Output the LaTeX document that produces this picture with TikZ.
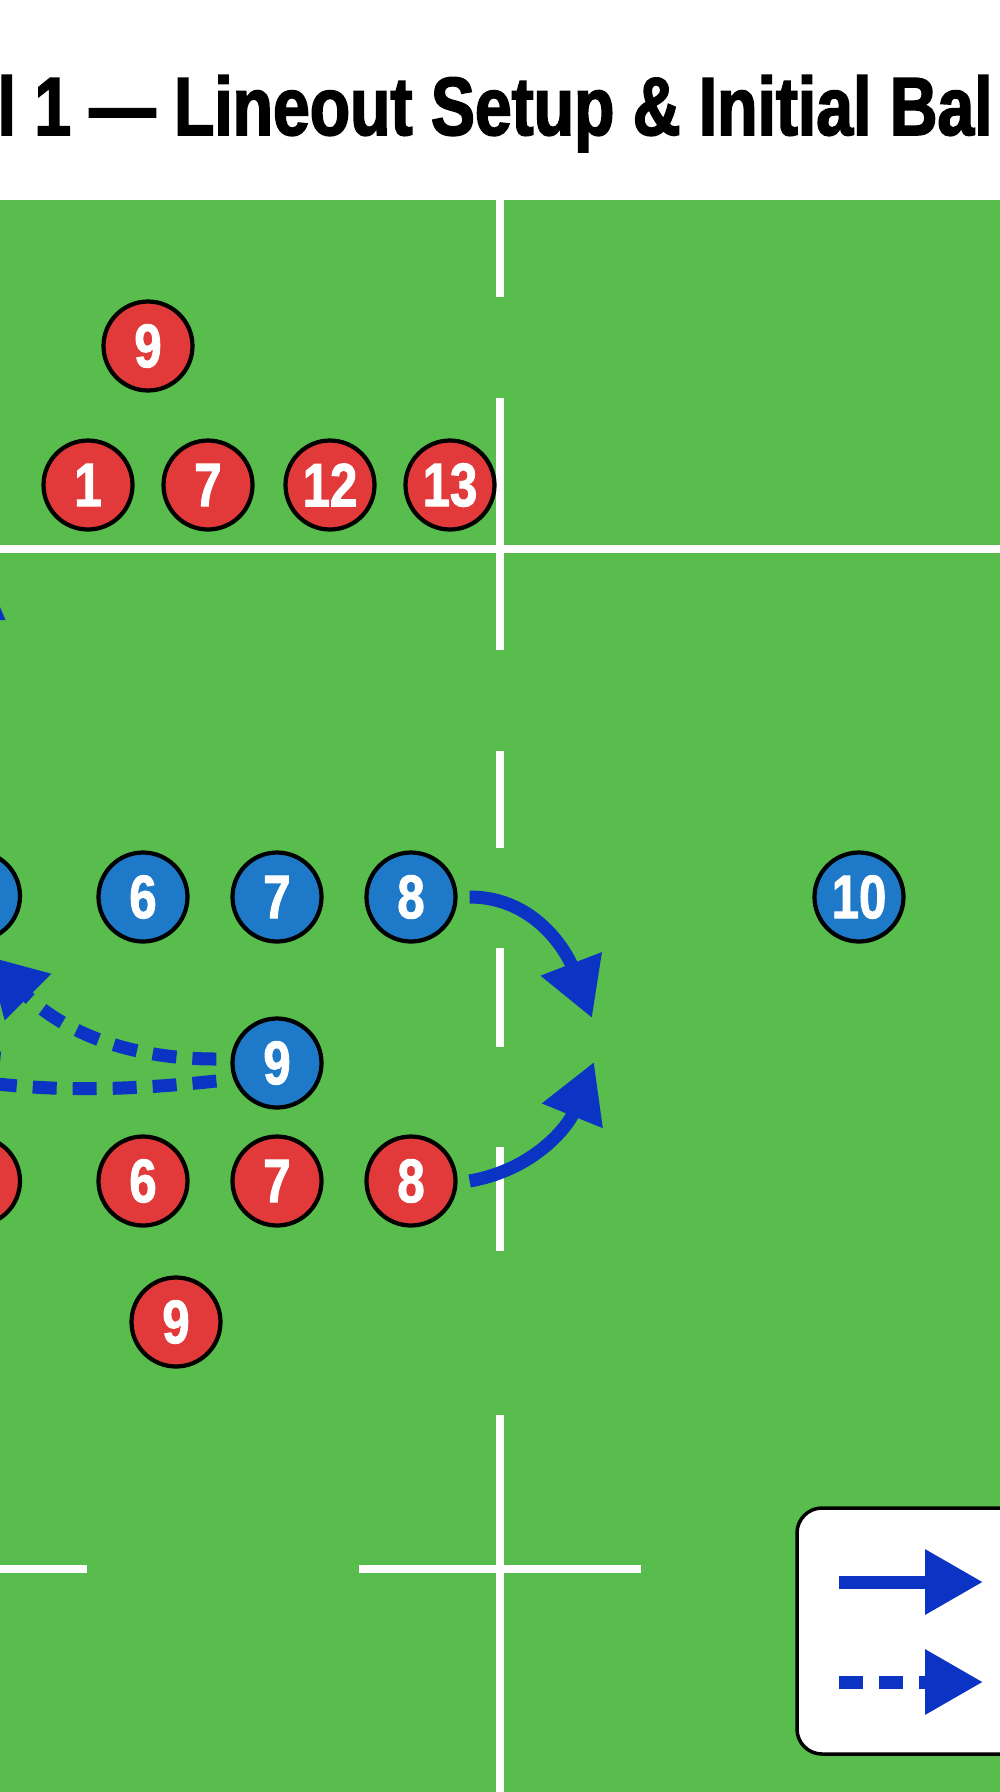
\documentclass[tikz,border=0pt]{standalone}
\usepackage{fontspec}
\usetikzlibrary{arrows.meta}
\newfontfamily\condfont[FakeStretch=0.8,FakeBold=1.5]{Liberation Sans}
\newfontfamily\titlefont[FakeStretch=0.8,FakeBold=2]{Liberation Sans}
\definecolor{pitch}{HTML}{58BD4C}
\definecolor{redfill}{HTML}{E23A3A}
\definecolor{bluefill}{HTML}{1E7AC8}
\definecolor{arrowblue}{HTML}{0C34C4}

\begin{document}
\begin{tikzpicture}[
  player/.style={circle, draw=black, line width=1.2pt, minimum size=8.9mm, inner sep=0pt,
    text=white, font=\condfont\bfseries\fontsize{17.5}{20}\selectfont},
  defence/.style={player, fill=redfill},
  attack/.style={player, fill=bluefill},
  fieldline/.style={white, line width=2.3pt},
  move/.style={arrowblue, line width=3.7pt, -{Triangle[length=5.8mm,width=6.2mm]}},
  pass/.style={move, dash pattern=on 2.4mm off 1.6mm}
]
\useasboundingbox (0,0) rectangle (10,-17.92);
\clip (0,0) rectangle (10,-17.92);

% Title
\node[anchor=base west, inner sep=0pt, font=\titlefont\bfseries\fontsize{23.5}{28}\selectfont]
  (title) at (-0.03,-1.35) {l 1 — Lineout Setup \& Initial Bal};

% Pitch
\fill[pitch] (0,-2.00) rectangle (10,-17.92);
\foreach \a/\b in {2.00/2.97, 3.98/6.50, 7.51/8.48, 9.48/10.47, 11.47/12.51, 14.15/17.92}
  \draw[fieldline] (5,-\a) -- (5,-\b);
\draw[fieldline] (0,-5.49) -- (10,-5.49);
\draw[fieldline] (0,-15.69) -- (0.87,-15.69);
\draw[fieldline] (3.59,-15.69) -- (6.41,-15.69);

% arrow tip coming in from the left
\fill[arrowblue] (0,-6.07) -- (0.055,-6.20) -- (0,-6.20) -- cycle;

% Defence, back of the lineout
\node[defence] (r9top) at (1.48,-3.46) {9};
\node[defence] (r1) at (0.88,-4.85) {1};
\node[defence] (r7top) at (2.08,-4.85) {7};
\node[defence] (r12) at (3.30,-4.85) {12};
\node[defence] (r13) at (4.50,-4.85) {13};

% Lineout: attack
\node[attack] (b5) at (-0.245,-8.96) {};
\node[attack] (b6) at (1.43,-8.97) {6};
\node[attack] (b7) at (2.77,-8.97) {7};
\node[attack] (b8) at (4.11,-8.97) {8};
\node[attack] (b10) at (8.59,-8.97) {10};
\node[attack] (b9) at (2.77,-10.63) {9};

% Lineout: defence
\node[defence] (r5) at (-0.245,-11.81) {};
\node[defence] (r6) at (1.43,-11.81) {6};
\node[defence] (r7) at (2.77,-11.81) {7};
\node[defence] (r8) at (4.11,-11.81) {8};
\node[defence] (r9) at (1.76,-13.22) {9};

% Runs and passes
\coordinate (t1) at (5.92,-10.18);
\coordinate (t2) at (5.94,-10.62);
\coordinate (p1) at (-0.13,-9.56);
\coordinate (p2) at (-0.60,-10.78);
\draw[move] ([xshift=1.2mm]b8.east) to[out=0,in=111] (t1);
\draw[move] ([xshift=1.2mm]r8.east) to[out=10,in=-112] (t2);
\draw[pass] ([shift={(-1.4mm,0.4mm)}]b9.west) to[out=180,in=-45] (p1);
\draw[pass] ([shift={(-1.4mm,-1.8mm)}]b9.west) to[out=186,in=-6] (p2);

% Legend
\draw[fill=white, line width=1pt, rounded corners=2.5mm] (7.97,-15.08) rectangle (10.4,-17.54);
\coordinate (ls1) at (8.39,-15.82);
\coordinate (le1) at (9.83,-15.82);
\coordinate (ls2) at (8.39,-16.82);
\coordinate (le2) at (9.83,-16.82);
\draw[move] (ls1) -- (le1);
\draw[pass] (ls2) -- (le2);

\end{tikzpicture}
\end{document}
